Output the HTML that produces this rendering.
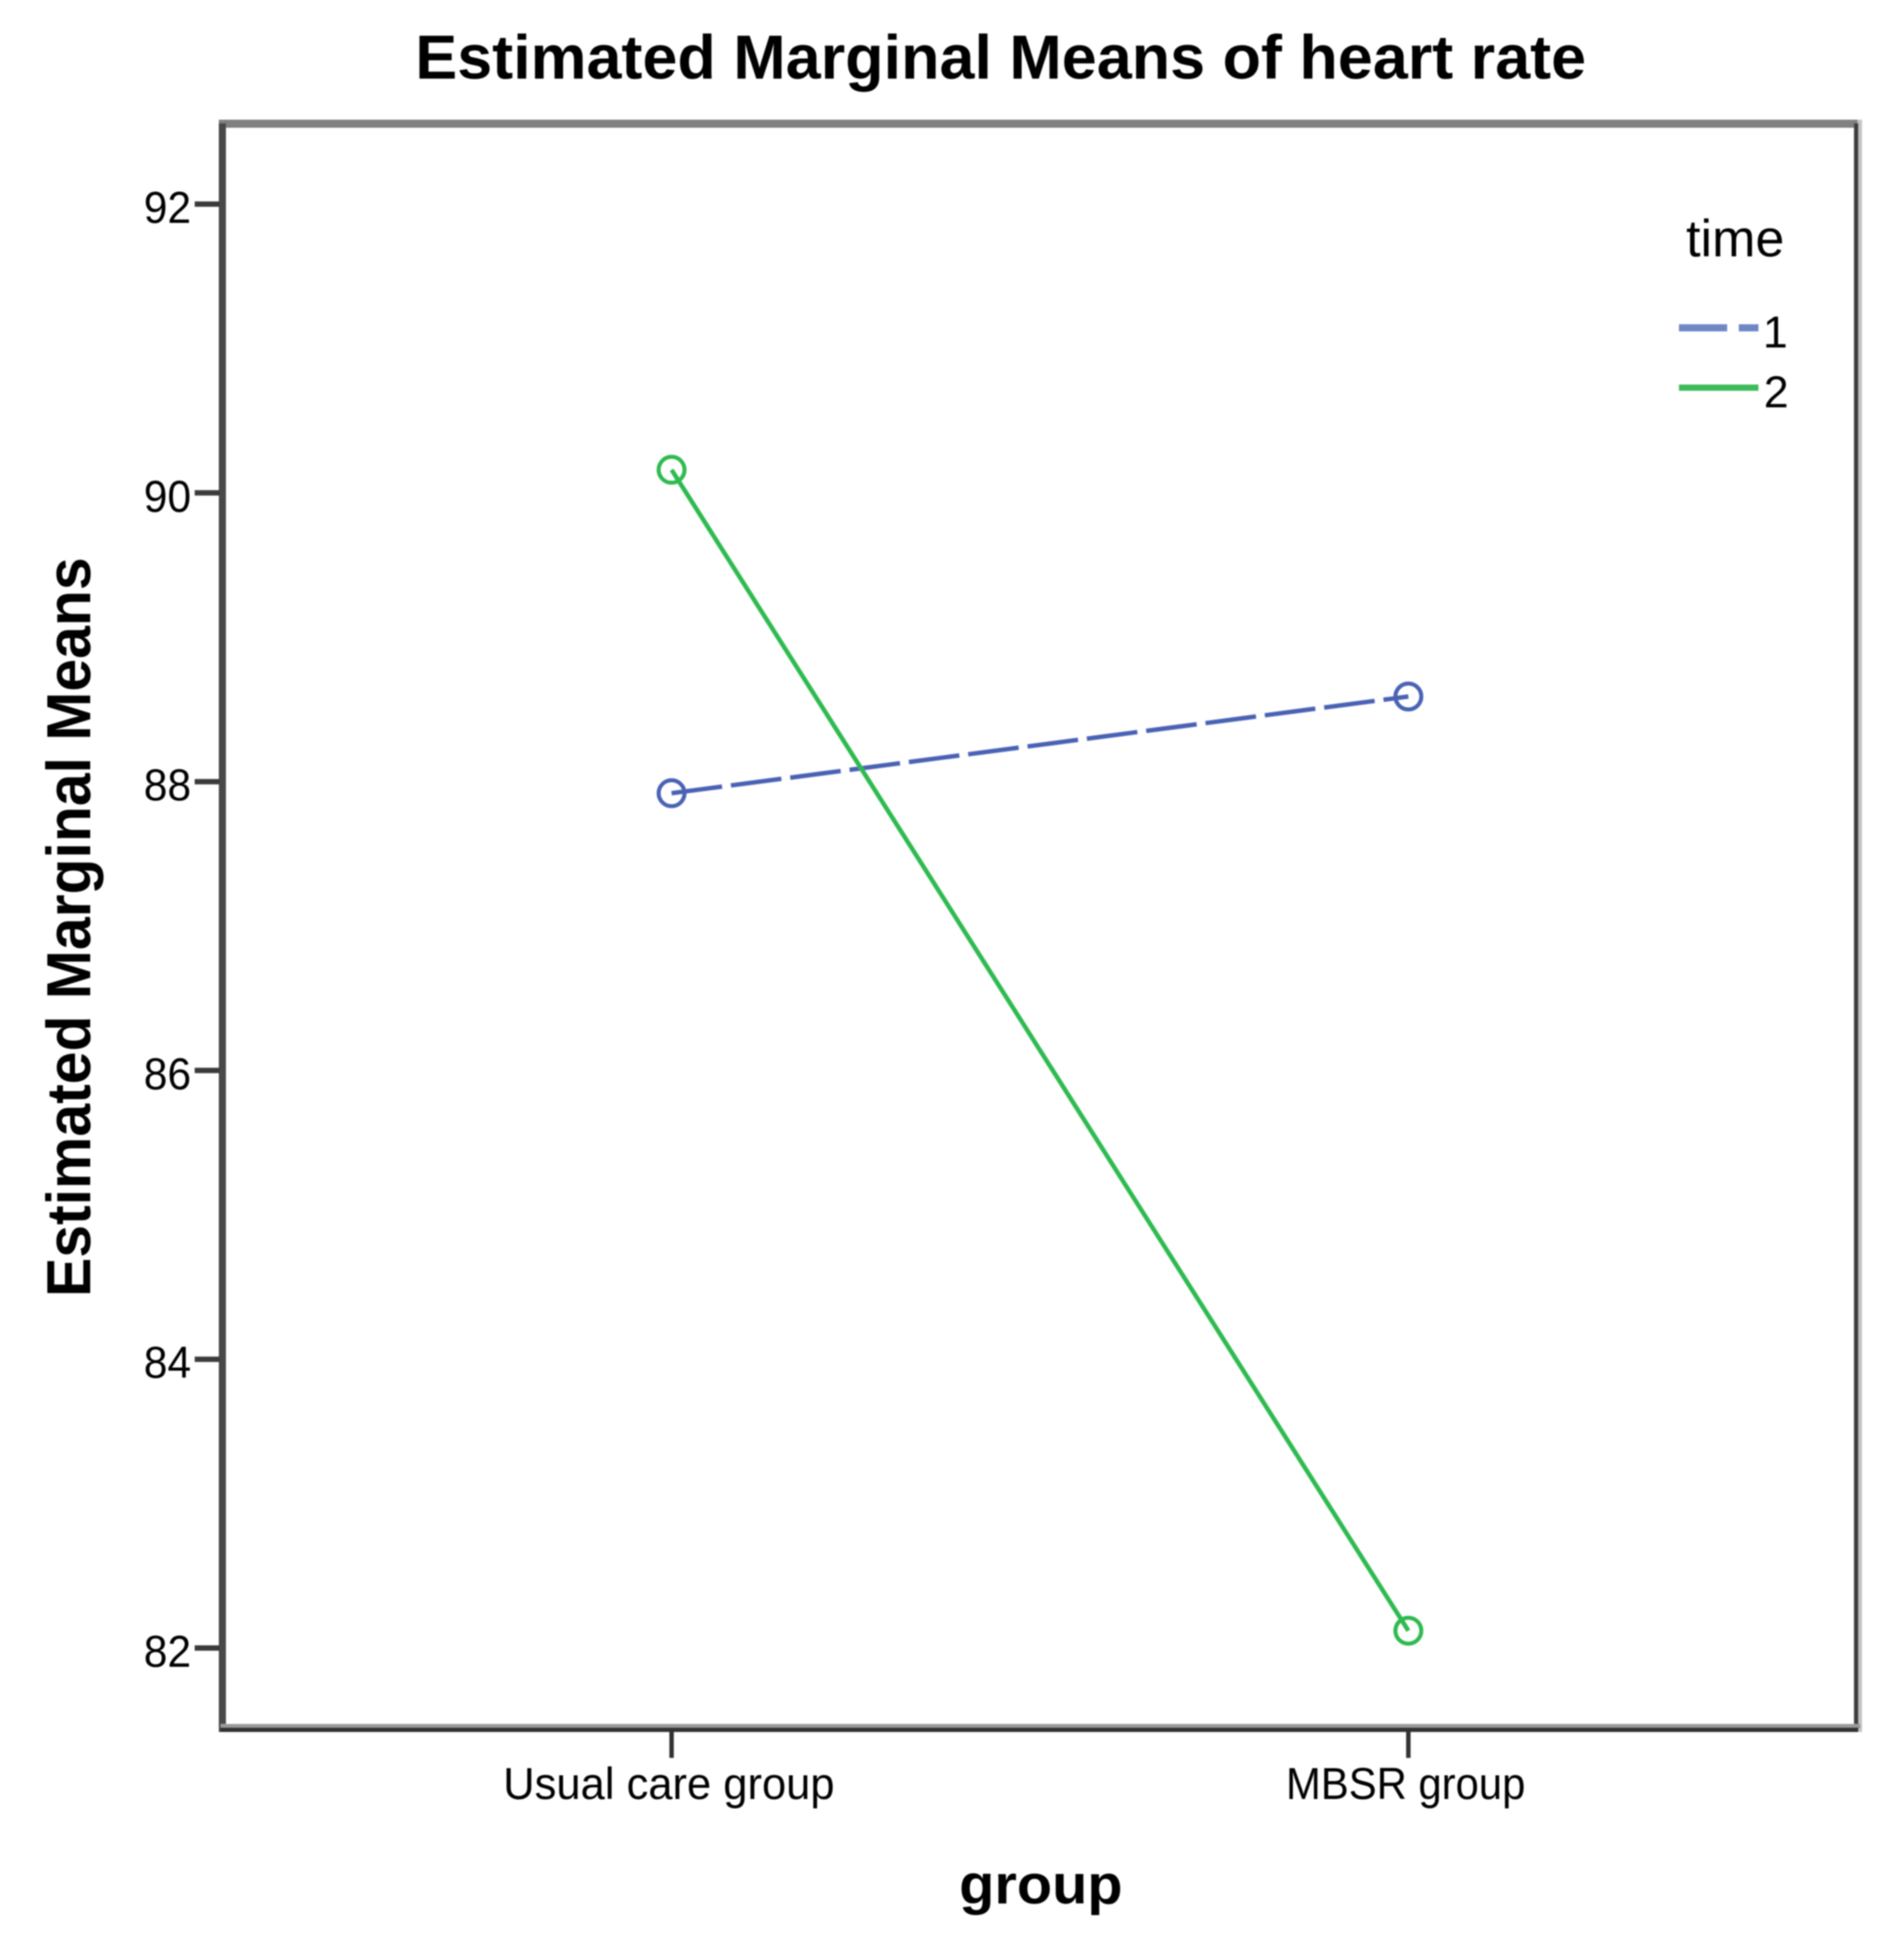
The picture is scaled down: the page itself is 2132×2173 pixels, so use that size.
<!DOCTYPE html>
<html lang="en">
<head>
<meta charset="utf-8">
<title>Estimated Marginal Means of heart rate</title>
<style>
  html, body { margin: 0; padding: 0; background: #fff; }
  body { width: 2132px; height: 2173px; overflow: hidden; }
  svg { display: block; }
  text { font-family: "Liberation Sans", Arial, sans-serif; fill: #000; }
  .bold { font-weight: bold; }
  .soft { filter: url(#soft); }
</style>
</head>
<body>
<svg id="chart" xmlns="http://www.w3.org/2000/svg" width="2132" height="2173" viewBox="0 0 2132 2173">
  <defs>
    <filter id="soft" x="-5%" y="-5%" width="110%" height="110%"><feGaussianBlur stdDeviation="0.9"/></filter>
  </defs>
  <rect x="0" y="0" width="2132" height="2173" fill="#ffffff"/>
  <g class="soft">
    <text class="bold" x="465" y="88" font-size="70" textLength="1311" lengthAdjust="spacingAndGlyphs">Estimated Marginal Means of heart rate</text>
    <rect x="245" y="134" width="1838" height="9" fill="#808080"/>
    <rect x="245" y="138" width="8" height="1801" fill="#484848"/>
    <rect x="2080" y="134" width="5" height="1805" fill="#c4c4c4"/>
    <rect x="2076" y="138" width="5" height="1801" fill="#3c3c3c"/>
    <rect x="247" y="1930" width="1836" height="5" fill="#9a9a9a"/>
    <rect x="247" y="1934" width="1834" height="5" fill="#303030"/>
    <g id="y-axis"></g>
    <g id="x-axis"></g>
    <g id="series"></g>
    <text class="bold" transform="translate(101,1452) rotate(-90)" x="0" y="0" font-size="70" textLength="828" lengthAdjust="spacingAndGlyphs">Estimated Marginal Means</text>
    <text class="bold" x="1074" y="2131" font-size="62" textLength="183" lengthAdjust="spacingAndGlyphs">group</text>
    <g id="legend">
      <text x="1888" y="287" font-size="58" textLength="110" lengthAdjust="spacingAndGlyphs">time</text>
      <line x1="1880" y1="367" x2="1969" y2="367" stroke="#7087c6" stroke-width="8" stroke-dasharray="54 13"/>
      <text x="1974" y="389" font-size="50">1</text>
      <line x1="1880" y1="434" x2="1969" y2="434" stroke="#3dbb5a" stroke-width="7"/>
      <text x="1975" y="456" font-size="50">2</text>
    </g>
  </g>
</svg>
<script>
const categories = ["Usual care group", "MBSR group"];
const categoryCenters = [752, 1577];
const categoryLabelWidths = [371, 268];
const yTicks = [82, 84, 86, 88, 90, 92];
const yTickLabels = ["82", "84", "86", "88", "90", "92"];
const time1Values = [87.92, 88.59];
const time2Values = [90.16, 82.12];

const NS = "http://www.w3.org/2000/svg";
const Y_AT_82 = 1845;
const PX_PER_UNIT = 161.65;
function yScale(v) { return Y_AT_82 - (v - 82) * PX_PER_UNIT; }
function xScale(i) { return categoryCenters[i]; }
function make(tag, attrs, parent) {
  const el = document.createElementNS(NS, tag);
  for (const k in attrs) el.setAttribute(k, attrs[k]);
  parent.appendChild(el);
  return el;
}

const yAxis = document.getElementById("y-axis");
yTicks.forEach(function (tick, i) {
  const y = yScale(tick);
  const mark = make("line", { x1: 218, x2: 246, y1: y, y2: y, stroke: "#3a3a3a", "stroke-width": 6 }, yAxis);
  
  
  const label = make("text", { x: 161, y: y + 21, "font-size": 50, textLength: 53, lengthAdjust: "spacingAndGlyphs" }, yAxis);
  
  
  label.textContent = yTickLabels[i];
});

const xAxis = document.getElementById("x-axis");
categories.forEach(function (cat, i) {
  const x = xScale(i);
  const mark = make("line", { x1: x, x2: x, y1: 1937, y2: 1968, stroke: "#333333", "stroke-width": 5 }, xAxis);
  
  
  const w = categoryLabelWidths[i];
  const label = make("text", { x: x - w / 2 - 3, y: 2014, "font-size": 50, textLength: w, lengthAdjust: "spacingAndGlyphs" }, xAxis);
  
  
  label.textContent = cat;
});

const seriesRoot = document.getElementById("series");
function drawSeries(values, color, dash) {
  const g = make("g", {}, seriesRoot);
  
  
  const pts = values.map(function (v, i) { return xScale(i) + "," + yScale(v); }).join(" ");
  const attrs = { points: pts, fill: "none", stroke: color, "stroke-width": 5 };
  if (dash) attrs["stroke-dasharray"] = dash;
  const line = make("polyline", attrs, g);
  
  
  values.forEach(function (v, i) {
    const c = make("circle", { cx: xScale(i), cy: yScale(v), r: 14.5, fill: "none", stroke: color, "stroke-width": 4.5 }, g);
    
    
  });
}
drawSeries(time1Values, "#4a62b4", "57 10");
drawSeries(time2Values, "#2fba50", null);
</script>
</body>
</html>
